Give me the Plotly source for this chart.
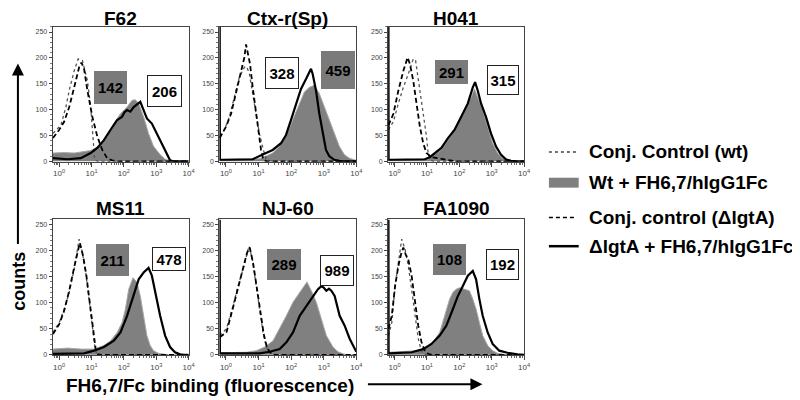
import plotly.graph_objects as go

W, H = 800, 400

# ---------------- data (x = log10 fluorescence, y = counts) ----------------
panel_names = ["F62", "Ctx-r(Sp)", "H041", "MS11", "NJ-60", "FA1090"]
gray_box_values = ["142", "459", "291", "211", "289", "108"]
white_box_values = ["206", "328", "315", "478", "989", "192"]
legend_labels = ["Conj. Control (wt)", "Wt + FH6,7/hIgG1Fc",
                 "Conj. control (ΔlgtA)", "ΔlgtA + FH6,7/hIgG1Fc"]
x_tick_labels = ["10<sup>0</sup>", "10<sup>1</sup>", "10<sup>2</sup>", "10<sup>3</sup>", "10<sup>4</sup>"]
y_tick_values = [0, 50, 100, 150, 200, 250]

# F62
f62_ctrl_wt_x = [-0.19, 0.055, 0.209, 0.311, 0.464, 0.587, 0.719, 0.873, 0.975, 1.056, 1.097, 1.2, 4.0]
f62_ctrl_wt_y = [54, 70, 105, 137, 175, 198, 195, 156, 105, 29, 3, 0, 0]
f62_wt_fh_x = [-0.19, 0.157, 0.464, 0.77, 0.975, 1.23, 1.485, 1.69, 1.894, 2.098, 2.251, 2.354, 2.456, 2.609, 2.762, 2.915, 3.12, 3.273, 3.426, 3.6, 4.0]
f62_wt_fh_y = [16, 17, 16, 19, 21, 29, 48, 73, 92, 105, 118, 119, 112, 86, 54, 29, 13, 4, 1, 0, 0]
f62_ctrl_lgt_x = [-0.19, 0.004, 0.157, 0.311, 0.464, 0.617, 0.689, 0.770, 0.873, 1.026, 1.179, 1.332, 1.485, 1.639, 1.8, 4.0]
f62_ctrl_lgt_y = [45, 61, 77, 105, 143, 182, 191, 179, 137, 86, 48, 22, 6, 2, 0, 0]
f62_lgt_fh_x = [-0.19, 0.26, 0.668, 0.975, 1.179, 1.383, 1.588, 1.792, 1.945, 2.02, 2.098, 2.2, 2.303, 2.425, 2.507, 2.609, 2.711, 2.864, 3.017, 3.171, 3.324, 3.426, 3.528, 4.0]
f62_lgt_fh_y = [6, 4, 6, 16, 26, 41, 61, 80, 86, 95, 99, 96, 105, 110, 115, 99, 83, 73, 54, 35, 13, 2, 0, 0]

# Ctx-r(Sp)
ctx_ctrl_wt_x = [-0.19, -0.047, 0.106, 0.26, 0.413, 0.566, 0.638, 0.719, 0.821, 0.924, 1.026, 1.148, 1.23, 1.332, 1.45, 4.0]
ctx_ctrl_wt_y = [48, 61, 86, 124, 163, 182, 183, 169, 131, 92, 54, 22, 6, 2, 0, 0]
ctx_wt_fh_x = [-0.19, 0.413, 1.026, 1.23, 1.434, 1.639, 1.843, 2.047, 2.251, 2.405, 2.558, 2.711, 2.864, 3.017, 3.17, 3.324, 3.477, 3.63, 3.784, 3.937, 4.0]
ctx_wt_fh_y = [3, 4, 5, 10, 16, 29, 48, 80, 112, 134, 143, 147, 131, 105, 80, 54, 29, 13, 6, 3, 2]
ctx_ctrl_lgt_x = [-0.19, 0.004, 0.158, 0.311, 0.464, 0.566, 0.617, 0.678, 0.74, 0.821, 0.903, 0.975, 1.077, 1.148, 1.25, 4.0]
ctx_ctrl_lgt_y = [45, 67, 92, 131, 169, 201, 226, 207, 188, 143, 105, 67, 22, 3, 0, 0]
ctx_lgt_fh_x = [-0.19, -0.185, -0.149, 0.311, 0.821, 1.128, 1.434, 1.69, 1.843, 1.996, 2.149, 2.302, 2.456, 2.558, 2.609, 2.66, 2.762, 2.864, 2.966, 3.068, 3.17, 3.324, 3.477, 3.6, 4.0]
ctx_lgt_fh_y = [260, 3, 3, 4, 4, 13, 22, 35, 51, 80, 112, 140, 159, 172, 179, 169, 137, 92, 54, 22, 10, 3, 1, 0, 0]

# H041
h041_ctrl_wt_x = [-0.19, -0.037, 0.117, 0.27, 0.423, 0.576, 0.648, 0.709, 0.811, 0.913, 0.985, 1.036, 1.087, 1.2, 4.0]
h041_ctrl_wt_y = [61, 77, 112, 143, 169, 198, 195, 169, 131, 86, 48, 16, 3, 0, 0]
h041_wt_fh_x = [-0.19, 0.525, 1.036, 1.24, 1.445, 1.649, 1.853, 2.057, 2.21, 2.364, 2.466, 2.568, 2.721, 2.875, 3.028, 3.181, 3.334, 3.487, 3.64, 3.8, 4.0]
h041_wt_fh_y = [3, 4, 4, 13, 22, 41, 61, 86, 105, 124, 140, 124, 99, 67, 35, 16, 6, 3, 1, 0, 0]
h041_ctrl_lgt_x = [-0.19, -0.037, 0.117, 0.27, 0.403, 0.474, 0.576, 0.678, 0.781, 0.883, 0.985, 1.138, 1.342, 1.547, 1.751, 1.9, 4.0]
h041_ctrl_lgt_y = [70, 92, 137, 175, 201, 188, 156, 112, 67, 35, 16, 8, 6, 3, 1, 0, 0]
h041_lgt_fh_x = [-0.19, -0.185, -0.159, 0.525, 0.934, 1.087, 1.24, 1.445, 1.649, 1.853, 2.006, 2.108, 2.262, 2.415, 2.486, 2.568, 2.67, 2.823, 2.977, 3.13, 3.283, 3.436, 3.59, 3.75, 4.0]
h041_lgt_fh_y = [260, 3, 3, 4, 4, 8, 16, 26, 45, 61, 80, 92, 112, 143, 153, 137, 112, 86, 54, 29, 13, 4, 1, 0, 0]

# MS11
ms11_ctrl_wt_x = [-0.19, 0.004, 0.157, 0.311, 0.464, 0.566, 0.617, 0.719, 0.821, 0.924, 1.026, 1.097, 1.159, 1.25, 4.0]
ms11_ctrl_wt_y = [43, 62, 88, 120, 164, 203, 222, 196, 158, 107, 56, 18, 2, 0, 0]
ms11_wt_fh_x = [-0.19, 0.26, 0.668, 1.077, 1.383, 1.588, 1.792, 1.945, 2.047, 2.149, 2.282, 2.405, 2.507, 2.609, 2.711, 2.813, 2.915, 3.069, 3.222, 3.35, 4.0]
ms11_wt_fh_y = [11, 13, 11, 11, 18, 27, 43, 62, 88, 126, 148, 139, 113, 75, 37, 18, 8, 3, 1, 0, 0]
ms11_ctrl_lgt_x = [-0.19, 0.004, 0.157, 0.311, 0.464, 0.587, 0.638, 0.74, 0.842, 0.944, 1.046, 1.128, 1.199, 1.3, 4.0]
ms11_ctrl_lgt_y = [40, 59, 85, 123, 168, 206, 215, 190, 152, 101, 50, 11, 1, 0, 0]
ms11_lgt_fh_x = [-0.19, 0.77, 1.077, 1.383, 1.69, 1.894, 2.098, 2.303, 2.456, 2.609, 2.762, 2.864, 2.966, 3.12, 3.273, 3.426, 3.579, 3.733, 3.85, 4.0]
ms11_lgt_fh_y = [2, 3, 8, 15, 27, 43, 75, 113, 145, 158, 167, 152, 120, 75, 37, 15, 5, 1, 0, 0]

# NJ-60
nj60_ctrl_wt_x = [-0.19, 0.015, 0.219, 0.372, 0.525, 0.627, 0.709, 0.811, 0.934, 1.036, 1.138, 1.24, 1.342, 1.445, 1.55, 4.0]
nj60_ctrl_wt_y = [37, 50, 94, 132, 164, 190, 209, 183, 132, 88, 43, 15, 4, 1, 0, 0]
nj60_wt_fh_x = [-0.19, 0.627, 0.934, 1.189, 1.445, 1.649, 1.853, 2.057, 2.262, 2.415, 2.486, 2.619, 2.772, 2.926, 3.079, 3.283, 3.436, 3.59, 3.75, 4.0]
nj60_wt_fh_y = [4, 5, 8, 15, 27, 50, 75, 101, 120, 132, 140, 123, 101, 69, 37, 15, 6, 2, 0, 0]
nj60_ctrl_lgt_x = [-0.19, 0.015, 0.219, 0.372, 0.525, 0.648, 0.729, 0.832, 0.954, 1.056, 1.159, 1.261, 1.393, 1.5, 4.0]
nj60_ctrl_lgt_y = [34, 43, 91, 129, 168, 196, 206, 177, 126, 82, 40, 13, 2, 0, 0]
nj60_lgt_fh_x = [-0.19, -0.185, -0.139, 1.036, 1.342, 1.649, 1.853, 2.057, 2.262, 2.466, 2.67, 2.823, 2.926, 2.997, 3.079, 3.16, 3.232, 3.334, 3.487, 3.641, 3.794, 3.947, 3.998]
nj60_lgt_fh_y = [260, 3, 3, 3, 6, 11, 24, 43, 75, 94, 113, 126, 132, 129, 123, 127, 123, 113, 75, 56, 31, 11, 6]

# FA1090
fa_ctrl_wt_x = [-0.19, -0.087, 0.015, 0.117, 0.219, 0.321, 0.423, 0.525, 0.627, 0.73, 0.811, 0.883, 1.0, 4.0]
fa_ctrl_wt_y = [37, 62, 132, 177, 222, 203, 171, 126, 75, 31, 11, 2, 0, 0]
fa_wt_fh_x = [-0.19, 0.73, 0.985, 1.189, 1.393, 1.547, 1.7, 1.802, 1.904, 2.006, 2.159, 2.313, 2.415, 2.517, 2.619, 2.721, 2.875, 3.028, 3.181, 3.334, 3.45, 4.0]
fa_wt_fh_y = [5, 8, 15, 24, 43, 75, 107, 120, 126, 129, 126, 123, 107, 88, 62, 37, 18, 8, 3, 1, 0, 0]
fa_ctrl_lgt_x = [-0.19, -0.087, 0.015, 0.117, 0.199, 0.27, 0.341, 0.423, 0.525, 0.627, 0.73, 0.832, 0.934, 1.036, 1.15, 4.0]
fa_ctrl_lgt_y = [50, 75, 132, 171, 193, 206, 193, 183, 152, 101, 56, 24, 8, 2, 0, 0]
fa_lgt_fh_x = [-0.19, -0.185, -0.159, 0.525, 0.883, 1.138, 1.393, 1.598, 1.802, 1.955, 2.108, 2.262, 2.415, 2.517, 2.619, 2.721, 2.875, 3.028, 3.232, 3.487, 3.794, 3.9, 4.0]
fa_lgt_fh_y = [260, 3, 3, 5, 11, 21, 37, 56, 88, 113, 132, 152, 161, 145, 107, 75, 43, 21, 8, 4, 1, 0, 0]

panels_data = [
    (f62_ctrl_wt_x, f62_ctrl_wt_y, f62_wt_fh_x, f62_wt_fh_y, f62_ctrl_lgt_x, f62_ctrl_lgt_y, f62_lgt_fh_x, f62_lgt_fh_y),
    (ctx_ctrl_wt_x, ctx_ctrl_wt_y, ctx_wt_fh_x, ctx_wt_fh_y, ctx_ctrl_lgt_x, ctx_ctrl_lgt_y, ctx_lgt_fh_x, ctx_lgt_fh_y),
    (h041_ctrl_wt_x, h041_ctrl_wt_y, h041_wt_fh_x, h041_wt_fh_y, h041_ctrl_lgt_x, h041_ctrl_lgt_y, h041_lgt_fh_x, h041_lgt_fh_y),
    (ms11_ctrl_wt_x, ms11_ctrl_wt_y, ms11_wt_fh_x, ms11_wt_fh_y, ms11_ctrl_lgt_x, ms11_ctrl_lgt_y, ms11_lgt_fh_x, ms11_lgt_fh_y),
    (nj60_ctrl_wt_x, nj60_ctrl_wt_y, nj60_wt_fh_x, nj60_wt_fh_y, nj60_ctrl_lgt_x, nj60_ctrl_lgt_y, nj60_lgt_fh_x, nj60_lgt_fh_y),
    (fa_ctrl_wt_x, fa_ctrl_wt_y, fa_wt_fh_x, fa_wt_fh_y, fa_ctrl_lgt_x, fa_ctrl_lgt_y, fa_lgt_fh_x, fa_lgt_fh_y),
]

# ---------------- layout geometry (pixels) ----------------
col_px = [(45, 182), (213, 351), (383, 520)]
row_px = [(19, 155), (213, 350)]
title_y_px = [11, 202]
gray_box_px = [(103.5, 80, 33, 33), (332, 62, 34, 38), (446.5, 64.5, 33, 24),
               (105, 254, 33, 32), (278, 258.5, 34, 31), (445, 253.5, 33, 31)]
white_box_px = [(157.5, 84, 35, 32), (276, 65.5, 34, 32), (499, 73, 32, 30),
                (162.5, 252.5, 34, 24), (331, 264.5, 34, 31), (498.5, 258.5, 33, 31)]

FONT = "Liberation Sans, Arial, sans-serif"
GRAY_FILL = "#808080"


def px(x):
    return x / W


def py(y):
    return 1 - y / H


fig = go.Figure()
layout_axes = {}
annotations = []
minor_vals = [m * 10 ** d for d in range(0, 4) for m in range(2, 10)] + [0.7, 0.8, 0.9]

for i, name in enumerate(panel_names):
    r, c = divmod(i, 3)
    k = "" if i == 0 else str(i + 1)
    xa, ya = "x" + k, "y" + k
    cwx, cwy, wfx, wfy, clx, cly, lfx, lfy = panels_data[i]
    tolin = lambda arr: [10 ** v for v in arr]

    fig.add_trace(go.Scatter(x=tolin(wfx), y=wfy, mode="lines", fill="tozeroy",
                             fillcolor=GRAY_FILL, line=dict(color="#a8a8a8", width=1),
                             xaxis=xa, yaxis=ya, showlegend=False))
    fig.add_trace(go.Scatter(x=tolin(cwx), y=cwy, mode="lines",
                             line=dict(color="#555555", width=1.3, dash="dot"),
                             xaxis=xa, yaxis=ya, showlegend=False))
    fig.add_trace(go.Scatter(x=tolin(clx), y=cly, mode="lines",
                             line=dict(color="black", width=1.8, dash="5px,3px"),
                             xaxis=xa, yaxis=ya, showlegend=False))
    fig.add_trace(go.Scatter(x=tolin(lfx), y=lfy, mode="lines",
                             line=dict(color="black", width=2.2),
                             xaxis=xa, yaxis=ya, showlegend=False))

    x0, x1 = col_px[c]
    y0, y1 = row_px[r]
    layout_axes["xaxis" + k] = dict(
        domain=[px(x0), px(x1)], anchor=ya, type="log", range=[-0.2, 4.0],
        tickmode="array", tickvals=[1, 10, 100, 1000, 10000], ticktext=x_tick_labels,
        ticks="outside", ticklen=4, tickwidth=1, tickcolor="#444",
        minor=dict(tickmode="array", tickvals=minor_vals, ticks="outside", ticklen=2,
                   tickcolor="#666", tickwidth=1),
        showline=True, linecolor="#444", linewidth=1, mirror=True,
        showgrid=False, zeroline=False,
        tickfont=dict(family=FONT, size=8, color="#444"),
    )
    layout_axes["yaxis" + k] = dict(
        domain=[py(y1), py(y0)], anchor=xa, range=[-1, 260],
        tickmode="array", tickvals=y_tick_values,
        ticks="outside", ticklen=3, tickwidth=1, tickcolor="#444",
        minor=dict(dtick=10, ticks="outside", ticklen=2, tickcolor="#777"),
        showline=True, linecolor="#444", linewidth=1, mirror=True,
        showgrid=False, zeroline=False,
        tickfont=dict(family=FONT, size=7, color="#444"),
    )
    annotations.append(dict(text="<b>%s</b>" % name, x=px((x0 + x1) / 2), y=py(title_y_px[r]),
                            xref="paper", yref="paper", showarrow=False, xanchor="center",
                            yanchor="middle", font=dict(family=FONT, size=19, color="black")))
    gx, gy, gw, gh = gray_box_px[i]
    annotations.append(dict(text="<b>%s</b>" % gray_box_values[i], x=px(gx), y=py(gy),
                            xref="paper", yref="paper", showarrow=False,
                            xanchor="center", yanchor="middle", width=gw - 2, height=gh - 2,
                            bgcolor="#7a7a7a", bordercolor="#7a7a7a", borderwidth=1, borderpad=0,
                            font=dict(family=FONT, size=15, color="black")))
    wx, wy, ww, wh = white_box_px[i]
    annotations.append(dict(text="<b>%s</b>" % white_box_values[i], x=px(wx), y=py(wy),
                            xref="paper", yref="paper", showarrow=False,
                            xanchor="center", yanchor="middle", width=ww - 2, height=wh - 2,
                            bgcolor="white", bordercolor="#222", borderwidth=1, borderpad=0,
                            font=dict(family=FONT, size=15, color="black")))

# ---------------- legend (manual) ----------------
shapes = []
legend_y = [145, 176, 211, 240]
shapes.append(dict(type="line", xref="paper", yref="paper", x0=px(545), x1=px(573),
                   y0=py(legend_y[0]), y1=py(legend_y[0]), line=dict(color="#444", width=1.5, dash="dot")))
shapes.append(dict(type="rect", xref="paper", yref="paper", x0=px(545), x1=px(575),
                   y0=py(legend_y[1] - 5), y1=py(legend_y[1] + 5), line=dict(width=0), fillcolor=GRAY_FILL))
shapes.append(dict(type="line", xref="paper", yref="paper", x0=px(545), x1=px(573),
                   y0=py(legend_y[2]), y1=py(legend_y[2]), line=dict(color="black", width=1.5, dash="4px,3px")))
shapes.append(dict(type="line", xref="paper", yref="paper", x0=px(545), x1=px(575),
                   y0=py(legend_y[3]), y1=py(legend_y[3]), line=dict(color="black", width=2.5)))
for lab, ly in zip(legend_labels, legend_y):
    annotations.append(dict(text="<b>%s</b>" % lab, x=px(583), y=py(ly), xref="paper", yref="paper",
                            showarrow=False, xanchor="left", yanchor="middle",
                            font=dict(family=FONT, size=19, color="black")))

# ---------------- axis titles with arrows ----------------
annotations.append(dict(text="<b>counts</b>", x=px(11), y=py(275), xref="paper", yref="paper",
                        showarrow=False, textangle=-90, xanchor="center", yanchor="middle",
                        font=dict(family=FONT, size=18, color="black")))
annotations.append(dict(text="", x=px(10), y=py(56), xref="paper", yref="paper",
                        ax=0, ay=182, axref="pixel", ayref="pixel", showarrow=True,
                        arrowhead=2, arrowsize=1.2, arrowwidth=2, arrowcolor="black"))
annotations.append(dict(text="<b>FH6,7/Fc binding (fluorescence)</b>", x=px(204), y=py(380),
                        xref="paper", yref="paper", showarrow=False, xanchor="center", yanchor="middle",
                        font=dict(family=FONT, size=19, color="black")))
annotations.append(dict(text="", x=px(478), y=py(379), xref="paper", yref="paper",
                        ax=-116, ay=0, showarrow=True,
                        arrowhead=2, arrowsize=1.2, arrowwidth=2, arrowcolor="black"))

fig.update_layout(width=W, height=H, margin=dict(l=0, r=0, t=0, b=0),
                  paper_bgcolor="white", plot_bgcolor="white",
                  annotations=annotations, shapes=shapes, showlegend=False, **layout_axes)

fig.write_html("out.html")
